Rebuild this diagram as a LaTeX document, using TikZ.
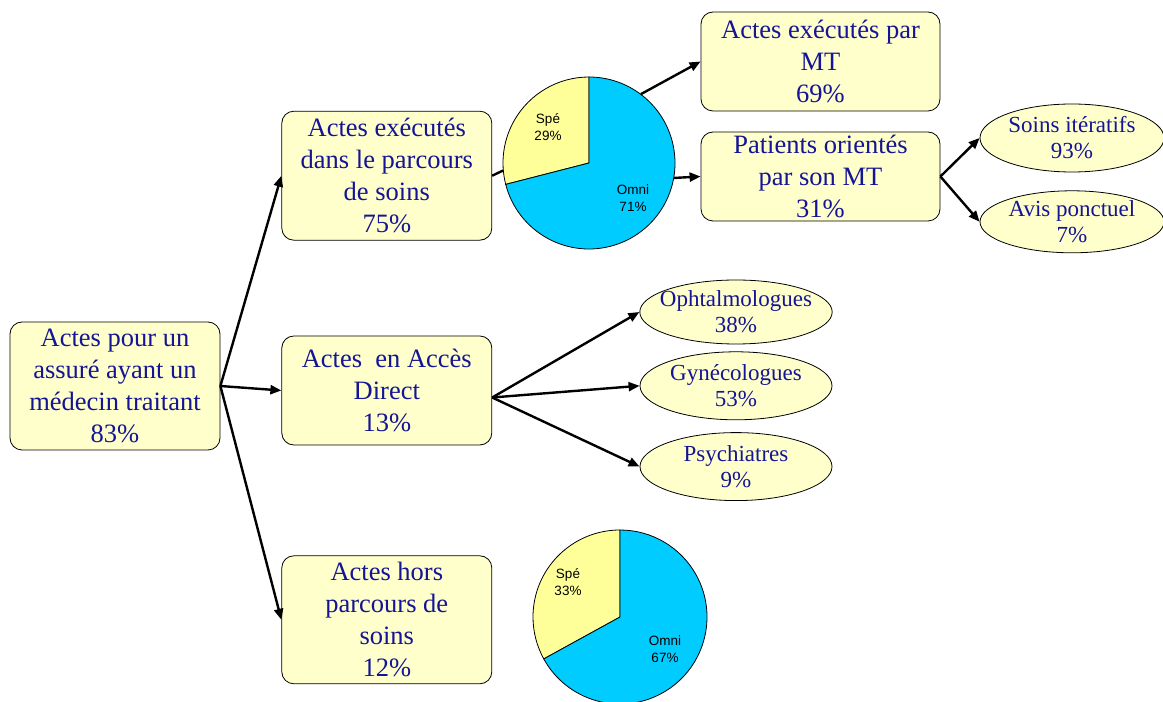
\documentclass[tikz,border=0pt]{standalone}
\usepackage{fontspec}
\setmainfont{Liberation Serif}
\newfontfamily\piefont{Liberation Sans}
\usepackage{tikz}
\usetikzlibrary{arrows.meta, positioning, shapes, calc}
\definecolor{boxyellow}{RGB}{255,255,204}
\definecolor{pieyellow}{RGB}{255,255,153}
\definecolor{piecyan}{RGB}{0,204,255}
\definecolor{textblue}{RGB}{20,20,150}
\tikzset{
	every node/.style={
		align=center,
	},
}
\tikzstyle{actbox} = [draw, thick, fill=boxyellow, rounded corners=12pt, text=textblue, font=\fontsize{26.5}{32}\selectfont, inner sep=0pt, minimum width=210pt]
\tikzstyle{actoval} = [draw, thick, ellipse, fill=boxyellow, text=textblue, font=\fontsize{23}{26}\selectfont, inner xsep=-8pt, inner ysep=-4pt, minimum width=192pt, minimum height=64pt]
\tikzstyle{link} = [line width=2.4pt, -{Triangle[length=11pt,width=9pt]}]
\tikzstyle{pielabel} = [font=\piefont\fontsize{13.5}{17}\selectfont, text=black]

\begin{document}
\begin{tikzpicture}[x=1pt, y=1pt]
        \useasboundingbox (0,0) rectangle (1163,702);
        % boxes
        \node[actbox, minimum height=128pt] (root) at (115,316) {Actes pour un\\assuré ayant un\\médecin traitant\\83\%};
        \node[actbox, minimum height=109pt, right=61pt of root, yshift=-4.5pt] (direct) {Actes~ en Accès\\Direct\\13\%};
        \node[actbox, minimum height=129pt, above=95pt of direct] (parcours) {Actes exécutés\\dans le parcours\\de soins\\75\%};
        \node[actbox, minimum height=128pt, below=110pt of direct] (hors) {Actes hors\\parcours de\\soins\\12\%};
        \node[actbox, minimum width=239pt, minimum height=99pt] (parmt) at (820.5,640.5) {Actes exécutés par\\MT\\69\%};
        \node[actbox, minimum width=239pt, minimum height=89pt] (oriente) at (820.5,525.5) {Patients orientés\\par son MT\\31\%};
        % ovals
        \node[actoval, minimum width=184pt, minimum height=68pt] (iteratif) at (1072,564) {Soins itératifs\\93\%};
        \node[actoval, minimum width=184pt, minimum height=62pt, below=18pt of iteratif] (ponctuel) {Avis ponctuel\\7\%};
        \node[actoval] (ophta) at (736,390) {Ophtalmologues\\38\%};
        \node[actoval, minimum height=68pt, below=7pt of ophta] (gyneco) {Gynécologues\\53\%};
        \node[actoval, minimum height=68pt, below=12pt of gyneco] (psy) {Psychiatres\\9\%};
        % pies
        \node[circle, minimum size=172pt, inner sep=0pt] (pieA) at (589,539) {};
        \filldraw[fill=pieyellow, thick] (pieA.center) -- ++(90:86) arc[start angle=90, end angle=194.4, radius=86] -- cycle;
        \filldraw[fill=piecyan, thick] (pieA.center) -- ++(194.4:86) arc[start angle=194.4, end angle=450, radius=86] -- cycle;
        \node[pielabel] (speA) at (548,575) {Spé\\29\%};
        \node[pielabel] (omniA) at (633,504) {Omni\\71\%};
        \node[circle, minimum size=174pt, inner sep=0pt] (pieB) at (620,85) {};
        \filldraw[fill=pieyellow, thick] (pieB.center) -- ++(90:87) arc[start angle=90, end angle=208.8, radius=87] -- cycle;
        \filldraw[fill=piecyan, thick] (pieB.center) -- ++(208.8:87) arc[start angle=208.8, end angle=450, radius=87] -- cycle;
        \node[pielabel] (speB) at (568,120) {Spé\\33\%};
        \node[pielabel] (omniB) at (665,53) {Omni\\67\%};
        % links
        \coordinate (dirout) at ([yshift=-7pt]direct.east);
        \draw[link] (root.east) -- (parcours.west);
        \draw[link] (root.east) -- (direct.west);
        \draw[link] (root.east) -- (hors.west);
        \draw[line width=2.4pt] (parcours.east) -- (pieA.185);
        \draw[link] (pieA.53) -- (parmt.west);
        \draw[link] (pieA.-10) -- (oriente.west);
        \draw[link] (oriente.east) -- (iteratif.west);
        \draw[link] (oriente.east) -- (ponctuel.west);
        \draw[link] (dirout) -- (ophta.west);
        \draw[link] (dirout) -- (gyneco.west);
        \draw[link] (dirout) -- (psy.west);
        \end{tikzpicture}
\end{document}
